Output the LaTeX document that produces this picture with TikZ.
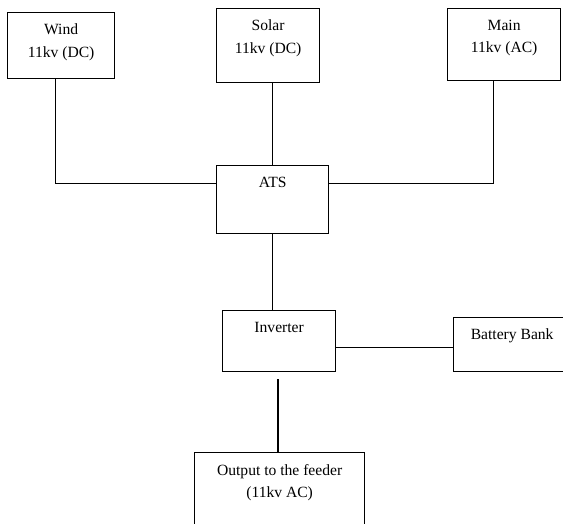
\documentclass[tikz,border=0pt]{standalone}
\usepackage{fontspec}
\setmainfont{Liberation Serif}
\begin{document}
\begin{tikzpicture}[x=1pt,y=-1pt,line width=1.3pt,
  blk/.style={draw, inner sep=0pt, anchor=north west},
  txt/.style={anchor=north, yshift=-11.5pt, align=center, inner sep=0pt,
    font=\fontsize{15.6}{22.5}\selectfont}]
\useasboundingbox (0,0) rectangle (563,523);
% sources
\node[blk, minimum width=107pt, minimum height=66pt,
  label={[txt]north:Wind\\11kv (DC)}] (wind) at (7,12) {};
\node[blk, minimum width=103pt, minimum height=74pt,
  label={[txt]north:Solar\\11kv (DC)}] (solar) at (216,8) {};
\node[blk, minimum width=113pt, minimum height=72pt,
  label={[txt]north:Main\\11kv (AC)}] (main) at (447,8) {};
% switch and inverter
\node[blk, minimum width=112pt, minimum height=68pt,
  label={[txt]north:ATS}] (ats) at (216,165) {};
\node[blk, minimum width=113pt, minimum height=61pt,
  label={[txt]north:Inverter}] (inv) at (222,310) {};
\node[blk, minimum width=117pt, minimum height=54pt,
  label={[txt]north:Battery Bank}] (bat) at (453,317) {};
% output
\node[blk, minimum width=170pt, minimum height=90pt,
  label={[txt]north:Output to the feeder\\(11kv AC)}] (out) at (194,452) {};
\coordinate (gap) at (278,379);
% connections
\draw ([xshift=-5.5pt]wind.south) |- ([yshift=16pt]ats.west);
\draw ([xshift=-10.5pt]main.south) |- ([yshift=16pt]ats.east);
\draw (ats.north) -- (ats.north |- solar.south);
\draw (ats.south) -- (ats.south |- inv.north);
\draw ([yshift=-6.5pt]inv.east) -- ([yshift=-6.5pt]inv.east -| bat.west);
\draw (gap) -- (gap |- out.north);
\end{tikzpicture}
\end{document}
